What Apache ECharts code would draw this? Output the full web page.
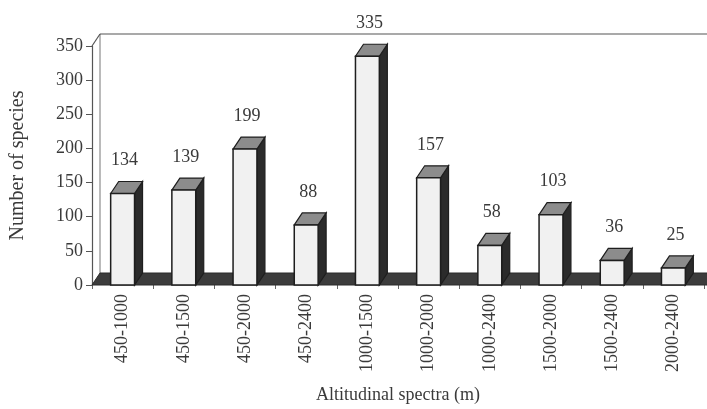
<!DOCTYPE html>
<html>
<head>
<meta charset="utf-8">
<script src="https://cdn.jsdelivr.net/npm/echarts@6/dist/echarts.min.js"></script>
<style>html,body{margin:0;padding:0;background:#fff;}#c{width:707px;height:409px;}</style>
</head>
<body>
<div id="c"></div>
<script>
const categories = ['450-1000','450-1500','450-2000','450-2400','1000-1500','1000-2000','1000-2400','1500-2000','1500-2400','2000-2400'];
const speciesCounts = [134,139,199,88,335,157,58,103,36,25];
const yTicks = [0,50,100,150,200,250,300,350];

const FONT = '"Liberation Serif", "DejaVu Serif", serif';
const INK = '#3a3a3a';
const DX = 8, DY = -12;

const chart = echarts.init(document.getElementById('c'));

function renderFrame(params, api) {
  const cs = params.coordSys;
  const x = cs.x, y = cs.y, w = cs.width, h = cs.height;
  const yb = y + h;
  return {
    type: 'group',
    children: [
      { type: 'line', shape: {x1: x + DX, y1: yb + DY, x2: x + DX, y2: y + DY}, style: {stroke: '#777', lineWidth: 1} },
      { type: 'line', shape: {x1: x + DX, y1: y + DY, x2: x + w + 40, y2: y + DY}, style: {stroke: '#555', lineWidth: 1.2} },
      { type: 'line', shape: {x1: x, y1: y, x2: x + DX, y2: y + DY}, style: {stroke: '#555', lineWidth: 1.2} },
      { type: 'polygon', shape: {points: [[x, yb], [x + w + 40, yb], [x + w + 40 + DX, yb + DY], [x + DX, yb + DY]]},
        style: {fill: '#3c3c3c', stroke: '#2a2a2a', lineWidth: 1} }
    ]
  };
}

function renderBar(params, api) {
  const i = api.value(0), v = api.value(1);
  const top = api.coord([i, v]);
  const base = api.coord([i, 0]);
  const bw = api.size([1, 0])[0] * 0.39;
  const x0 = top[0] - bw / 2, x1 = top[0] + bw / 2;
  const yT = top[1], yB = base[1];
  return {
    type: 'group',
    children: [
      { type: 'polygon', shape: {points: [[x1, yT], [x1 + DX, yT + DY], [x1 + DX, yB + DY], [x1, yB]]},
        style: {fill: '#2b2b2b', stroke: '#1e1e1e', lineWidth: 1.2} },
      { type: 'polygon', shape: {points: [[x0, yT], [x0 + DX, yT + DY], [x1 + DX, yT + DY], [x1, yT]]},
        style: {fill: '#8c8c8c', stroke: '#1e1e1e', lineWidth: 1.2} },
      { type: 'rect', shape: {x: x0, y: yT, width: bw, height: yB - yT},
        style: {fill: '#f1f1f1', stroke: '#1e1e1e', lineWidth: 1.5} },
      { type: 'text', x: top[0] + 2, y: yT - 33,
        style: {text: String(v), fontFamily: FONT, fontSize: 18, fill: INK, align: 'center', verticalAlign: 'middle'} }
    ]
  };
}

chart.setOption({
  backgroundColor: '#ffffff',
  animation: false,
  grid: {left: 92, right: 3, top: 46, bottom: 122},
  xAxis: {
    type: 'category',
    data: categories,
    name: 'Altitudinal spectra (m)',
    nameLocation: 'middle',
    nameGap: 101,
    nameTextStyle: {fontFamily: FONT, fontSize: 18, color: INK},
    axisLine: {show: false},
    axisTick: {show: true, length: 4, lineStyle: {color: '#666'}},
    axisLabel: {rotate: 90, margin: 9, fontFamily: FONT, fontSize: 18, color: INK}
  },
  yAxis: {
    type: 'value',
    min: 0, max: 350, interval: 50,
    name: 'Number of species',
    nameLocation: 'middle',
    nameGap: 64,
    nameTextStyle: {fontFamily: FONT, fontSize: 20, color: INK},
    splitLine: {show: false},
    axisLine: {show: true, lineStyle: {color: '#555', width: 1.2}},
    axisTick: {show: true, length: 6, lineStyle: {color: '#555'}},
    axisLabel: {margin: 9, fontFamily: FONT, fontSize: 18, color: INK,
      formatter: function (val) { return yTicks.indexOf(val) >= 0 ? String(val) : ''; }}
  },
  series: [
    { type: 'custom', renderItem: renderFrame, data: [[0, 0]], z: 1, silent: true, clip: false },
    { type: 'custom', renderItem: renderBar, data: speciesCounts.map((v, i) => [i, v]), z: 3, clip: false }
  ]
});
</script>
</body>
</html>
